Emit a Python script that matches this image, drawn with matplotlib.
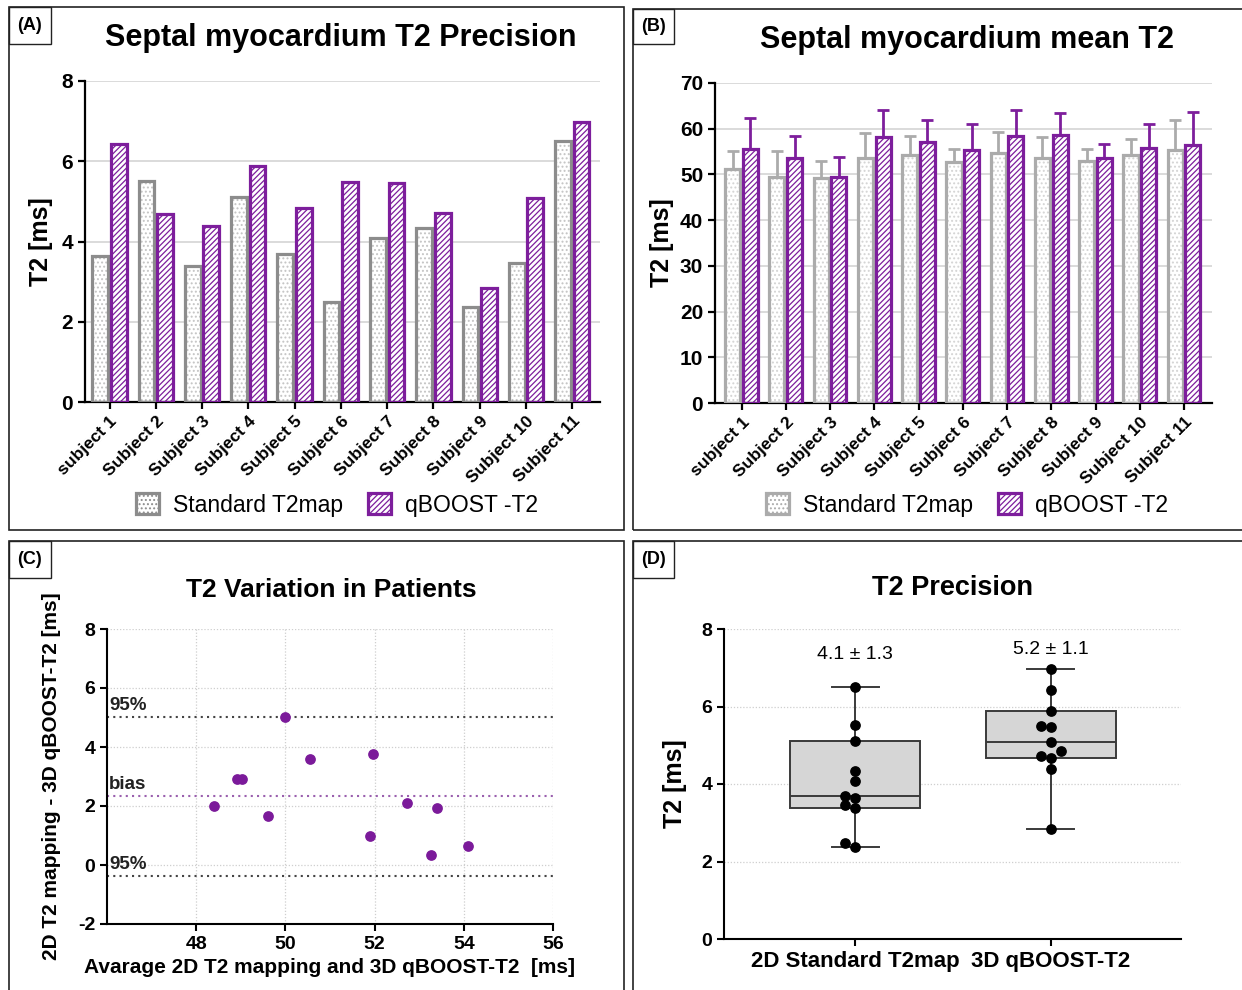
import numpy as np
import matplotlib.pyplot as plt
from matplotlib.patches import Rectangle, Patch

plt.rcParams['font.family'] = ['Liberation Sans', 'DejaVu Sans']
plt.rcParams['hatch.linewidth'] = 0.9
plt.rcParams['axes.unicode_minus'] = False

subjects = ['subject 1'] + ['Subject %d' % i for i in range(2, 12)]

# (A) precision per subject
prec_std = [3.65, 5.52, 3.38, 5.12, 3.70, 2.49, 4.09, 4.34, 2.37, 3.46, 6.50]
prec_qb = [6.42, 4.68, 4.38, 5.88, 4.84, 5.49, 5.47, 4.71, 2.85, 5.09, 6.98]

# (B) mean T2 and sd per subject
mean_std = [51.2, 49.4, 49.3, 53.6, 54.3, 52.7, 54.7, 53.5, 52.9, 54.2, 55.4]
sd_std = [3.9, 5.7, 3.7, 5.5, 4.0, 2.8, 4.5, 4.7, 2.6, 3.6, 6.6]
mean_qb = [55.6, 53.5, 49.4, 58.1, 57.0, 55.4, 58.4, 58.6, 53.5, 55.7, 56.4]
sd_qb = [6.7, 4.9, 4.5, 6.1, 5.0, 5.7, 5.6, 4.9, 3.1, 5.4, 7.2]

# (C) Bland-Altman
ba_mean = [48.39, 48.91, 49.02, 49.60, 50.00, 50.56, 51.89, 51.96, 52.73, 53.27, 53.41, 54.10]
ba_diff = [1.99, 2.92, 2.92, 1.65, 5.01, 3.59, 0.99, 3.76, 2.11, 0.33, 1.92, 0.66]
ba_bias = 2.33
ba_hi = 5.03
ba_lo = -0.38

# (D) box plot
box_labels = ['2D Standard T2map', '3D qBOOST-T2']
box_text = ['4.1 \u00b1 1.3', '5.2 \u00b1 1.1']
box_text_y = [7.33, 7.46]

PURPLE = '#7d1e9c'
GREY_A = '#8c8c8c'
GREY_B = '#ababab'

W, H = 1242, 990
fig = plt.figure(figsize=(12.42, 9.9), dpi=100)


def box(x0, y0, x1, y1):
    return [x0 / W, 1 - y1 / H, (x1 - x0) / W, (y1 - y0) / H]


# panel frames and letters
for (x0, y0, x1, y1), lab, (lx1, ly1) in [
        ((9, 7, 624, 530), '(A)', (51, 44)),
        ((633, 9, 1250, 530), '(B)', (674, 44)),
        ((9, 541, 624, 1000), '(C)', (51, 578)),
        ((633, 541, 1250, 1000), '(D)', (674, 578))]:
    fig.add_artist(Rectangle((x0 / W, 1 - y1 / H), (x1 - x0) / W, (y1 - y0) / H,
                             transform=fig.transFigure, fill=False, lw=1.2, ec='#222222'))
    fig.add_artist(Rectangle((x0 / W, 1 - ly1 / H), (lx1 - x0) / W, (ly1 - y0) / H,
                             transform=fig.transFigure, fill=False, lw=1.0, ec='#222222'))
    fig.text((x0 + lx1) / 2 / W, 1 - (y0 + ly1) / 2 / H, lab, ha='center', va='center',
             fontsize=13, fontweight='bold')


def style_bar_axes(ax):
    ax.spines['top'].set_visible(False)
    ax.spines['right'].set_visible(False)
    ax.spines['left'].set_linewidth(1.6)
    ax.spines['bottom'].set_linewidth(1.6)
    ax.tick_params(width=1.6, length=5)
    ax.yaxis.grid(True, color='#d4d4d4', lw=1.2)
    ax.set_axisbelow(True)


def draw_bars(ax, x, vals, off, w, edge, hatch, hatch_col, lw):
    ax.bar(x + off, vals, w, color='white', edgecolor=hatch_col, hatch=hatch, lw=0, zorder=2)
    ax.bar(x + off, vals, w, fill=False, edgecolor=edge, lw=lw, zorder=3)


x = np.arange(len(subjects))
bw = 0.34
off = 0.2
DOTS = '....'

# ---------- (A)
axA = fig.add_axes(box(85, 81, 600, 402))
draw_bars(axA, x, prec_std, -off, bw, GREY_A, DOTS, '#c4c4c4', 2.3)
draw_bars(axA, x, prec_qb, off, bw, PURPLE, '//////', PURPLE, 2.3)
style_bar_axes(axA)
axA.set_ylim(0, 8)
axA.set_yticks([0, 2, 4, 6, 8])
axA.set_xlim(-0.53, 10.6)
axA.set_xticks(x)
axA.set_xticklabels(subjects, rotation=45, ha='right', rotation_mode='anchor',
                    fontsize=12.5, fontweight='bold')
for t in axA.get_yticklabels():
    t.set_fontsize(15)
    t.set_fontweight('bold')
axA.set_ylabel('T2 [ms]', fontsize=18, fontweight='bold', labelpad=6)
fig.text(341 / W, 1 - 38 / H, 'Septal myocardium T2 Precision', ha='center', va='center',
         fontsize=22, fontweight='bold')

# ---------- (B)
axB = fig.add_axes(box(715, 83, 1212, 403))
axB.errorbar(x - off, mean_std, yerr=[np.zeros(len(x)), sd_std], fmt='none',
             ecolor=GREY_B, elinewidth=2, capsize=4, capthick=2, zorder=1)
axB.errorbar(x + off, mean_qb, yerr=[np.zeros(len(x)), sd_qb], fmt='none',
             ecolor=PURPLE, elinewidth=2, capsize=4, capthick=2, zorder=1)
draw_bars(axB, x, mean_std, -off, bw, GREY_B, DOTS, '#d4d4d4', 2.3)
draw_bars(axB, x, mean_qb, off, bw, PURPLE, '//////', PURPLE, 2.3)
style_bar_axes(axB)
axB.set_ylim(0, 70)
axB.set_yticks(range(0, 71, 10))
axB.set_xlim(-0.6, 10.63)
axB.set_xticks(x)
axB.set_xticklabels(subjects, rotation=45, ha='right', rotation_mode='anchor',
                    fontsize=12.5, fontweight='bold')
for t in axB.get_yticklabels():
    t.set_fontsize(15)
    t.set_fontweight('bold')
axB.set_ylabel('T2 [ms]', fontsize=18, fontweight='bold', labelpad=4)
fig.text(967 / W, 1 - 40 / H, 'Septal myocardium mean T2', ha='center', va='center',
         fontsize=22, fontweight='bold')

# legends
for ax, grey, cx in [(axA, GREY_A, 337), (axB, GREY_B, 967)]:
    handles = [Patch(facecolor='white', edgecolor=grey, hatch=DOTS, lw=2.3, label='Standard T2map'),
               Patch(facecolor='white', edgecolor=PURPLE, hatch='//////', lw=2.3, label='qBOOST -T2')]
    ax.legend(handles=handles, loc='center', bbox_to_anchor=(cx / W, 1 - 505 / H),
              bbox_transform=fig.transFigure, ncol=2, frameon=False, fontsize=16.5,
              handlelength=1.0, handleheight=1.0, columnspacing=1.1, handletextpad=0.6)

# ---------- (C)
axC = fig.add_axes(box(107, 629, 553, 924))
axC.scatter(ba_mean, ba_diff, s=45, color='#7b1a9a', zorder=3)
axC.axhline(ba_hi, color='#444444', ls=(0, (1, 2)), lw=1.5)
axC.axhline(ba_lo, color='#444444', ls=(0, (1, 2)), lw=1.5)
axC.axhline(ba_bias, color='#9a5fae', ls=(0, (1, 2)), lw=1.5)
for yv, lab in [(ba_hi, '95%'), (ba_bias, 'bias'), (ba_lo, '95%')]:
    axC.text(46.05, yv + 0.1, lab, fontsize=13.5, fontweight='bold', va='bottom', ha='left',
             color='#222222')
axC.set_xlim(46, 56)
axC.set_ylim(-2, 8)
axC.set_xticks([48, 50, 52, 54, 56])
axC.set_yticks([-2, 0, 2, 4, 6, 8])
axC.grid(True, color='#cfcfcf', ls=(0, (1, 1.5)), lw=0.9)
axC.set_axisbelow(True)
for s in ['top', 'right']:
    axC.spines[s].set_visible(False)
axC.spines['left'].set_linewidth(1.5)
axC.spines['bottom'].set_linewidth(1.5)
axC.tick_params(width=1.5, length=5)
for t in axC.get_xticklabels() + axC.get_yticklabels():
    t.set_fontsize(14)
    t.set_fontweight('bold')
axC.set_xlabel('Avarage 2D T2 mapping and 3D qBOOST-T2  [ms]', fontsize=15, fontweight='bold',
               labelpad=4)
axC.set_ylabel('2D T2 mapping - 3D qBOOST-T2 [ms]', fontsize=15, fontweight='bold', labelpad=12)
fig.text(331 / W, 1 - 590 / H, 'T2 Variation in Patients', ha='center', va='center',
         fontsize=19, fontweight='bold')

# ---------- (D)
axD = fig.add_axes(box(724, 629, 1181, 939))
groups = [np.array(prec_std), np.array(prec_qb)]
stats = []
for g, lab in zip(groups, box_labels):
    q1, med, q3 = np.percentile(g, [25, 50, 75], method='weibull')
    stats.append(dict(med=med, q1=q1, q3=q3, whislo=g.min(), whishi=g.max(), fliers=[], label=lab))
axD.bxp(stats, positions=[1, 2], widths=0.66, patch_artist=True, showfliers=False,
        boxprops=dict(facecolor='#d6d6d6', edgecolor='#3a3a3a', lw=1.4),
        medianprops=dict(color='#3a3a3a', lw=1.4),
        whiskerprops=dict(color='#3a3a3a', lw=1.4),
        capprops=dict(color='#3a3a3a', lw=1.4), capwidths=0.24)

# simple beeswarm spacing for the dots
px_x = 457 / (2.664 - 0.331)
px_y = 310 / 8.0
for pos, g in zip([1, 2], groups):
    placed = []
    for v in np.sort(g):
        cands = [0]
        for i in range(1, 6):
            cands += [-i, i]
        for c in cands:
            dx = c * 0.05
            ok = all(np.hypot((dx - px0) * px_x, (v - py0) * px_y) >= 8 for px0, py0 in placed)
            if ok:
                break
        placed.append((dx, v))
    axD.scatter([pos + p[0] for p in placed], [p[1] for p in placed], s=45, color='black', zorder=4)

for pos, txt, ty in zip([1, 2], box_text, box_text_y):
    axD.text(pos, ty, txt, ha='center', va='center', fontsize=14)

axD.set_xlim(0.331, 2.664)
axD.set_ylim(0, 8)
axD.set_yticks([0, 2, 4, 6, 8])
axD.set_xticks([1, 2])
axD.set_xticklabels(box_labels, fontsize=16, fontweight='bold')
axD.yaxis.grid(True, color='#cfcfcf', ls=(0, (1, 1.5)), lw=0.9)
axD.set_axisbelow(True)
for s in ['top', 'right']:
    axD.spines[s].set_visible(False)
axD.spines['left'].set_linewidth(1.5)
axD.spines['bottom'].set_linewidth(1.5)
axD.tick_params(width=1.5, length=5)
for t in axD.get_yticklabels():
    t.set_fontsize(14)
    t.set_fontweight('bold')
axD.set_ylabel('T2 [ms]', fontsize=18, fontweight='bold', labelpad=10)
fig.text(953 / W, 1 - 588 / H, 'T2 Precision', ha='center', va='center',
         fontsize=19.5, fontweight='bold')

fig.savefig('out.png', dpi=100, facecolor='white')
